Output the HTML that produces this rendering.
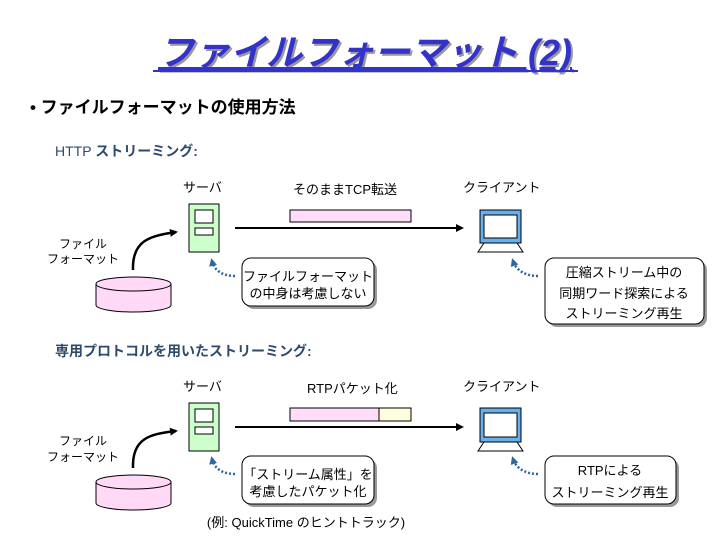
<!DOCTYPE html>
<html><head><meta charset="utf-8"><style>
html,body{margin:0;padding:0;background:#fff;}
svg{display:block;font-family:"Liberation Sans","Noto Sans CJK JP",sans-serif;}
</style></head><body>
<svg width="720" height="540" viewBox="0 0 720 540" xmlns="http://www.w3.org/2000/svg">
<defs>
<marker id="ah" markerWidth="8" markerHeight="8" refX="6" refY="4" orient="auto" markerUnits="userSpaceOnUse"><path d="M0,0 L8,4 L0,8 z" fill="#000"/></marker>
<marker id="bh" markerWidth="8" markerHeight="8" refX="5" refY="4" orient="auto" markerUnits="userSpaceOnUse"><path d="M0,0 L8,4 L0,8 z" fill="#336699"/></marker>
</defs>
<!-- title -->
<text x="367" y="67" text-anchor="middle" font-size="36" font-weight="bold" font-style="italic" fill="#999" text-decoration="underline">ファイルフォーマット (2)</text>
<text x="365" y="65" text-anchor="middle" font-size="36" font-weight="bold" font-style="italic" fill="#3333cc" text-decoration="underline">ファイルフォーマット (2)</text>
<line x1="153" y1="71" x2="578" y2="71" stroke="#3333cc" stroke-width="2"/>
<text x="30" y="113" font-size="17" font-weight="bold" fill="#000">• ファイルフォーマットの使用方法</text>

<g id="s1">
<text x="55" y="156" font-size="14" fill="#2d4a6e">HTTP <tspan font-weight="bold">ストリーミング:</tspan></text>
<text x="183" y="192" font-size="13">サーバ</text>
<text x="293" y="194" font-size="13">そのままTCP転送</text>
<text x="463" y="192" font-size="13">クライアント</text>
<rect x="189" y="204" width="30" height="48" fill="#ccffcc" stroke="#000"/>
<rect x="195" y="210" width="18" height="13" fill="#fff" stroke="#000"/>
<rect x="195" y="228" width="18" height="7" fill="#fff" stroke="#000"/>
<rect x="290" y="210" width="121" height="12" fill="#ffddf8" stroke="#000"/>
<line x1="235" y1="228" x2="462" y2="228" stroke="#000" stroke-width="2" marker-end="url(#ah)"/>
<rect x="480" y="210" width="41" height="33" fill="#66b0ee" stroke="#000"/>
<rect x="484" y="215" width="33" height="23" fill="#fff" stroke="#000"/>
<path d="M484,243 L517,243 L523,252 L478,252 z" fill="#fff" stroke="#000"/>
<text x="83" y="248" font-size="12" text-anchor="middle">ファイル</text>
<text x="83" y="263" font-size="12" text-anchor="middle">フォーマット</text>
<path d="M133,270 C132,240 150,236 176,232" fill="none" stroke="#000" stroke-width="2.5" marker-end="url(#ah)"/>
<path d="M96,284 L96,305 A37.5,7 0 0 0 171,305 L171,284" fill="#ffd9f5" stroke="#000"/>
<ellipse cx="133.5" cy="284" rx="37.5" ry="7" fill="#ffd9f5" stroke="#000"/>
<path d="M235,276 C222,276 214,270 212,261" fill="none" stroke="#336699" stroke-width="2.5" stroke-dasharray="2,2" marker-end="url(#bh)"/>
<rect x="245" y="261" width="132" height="48" rx="9" fill="#999"/>
<rect x="242" y="258" width="132" height="48" rx="9" fill="#fff" stroke="#000"/>
<text x="308" y="281" font-size="13" text-anchor="middle">ファイルフォーマット</text>
<text x="308" y="298" font-size="13" text-anchor="middle">の中身は考慮しない</text>
<path d="M538,276 C525,276 516,270 513,261" fill="none" stroke="#336699" stroke-width="2.5" stroke-dasharray="2,2" marker-end="url(#bh)"/>
<rect x="548" y="261" width="159" height="66" rx="9" fill="#999"/>
<rect x="545" y="258" width="159" height="66" rx="9" fill="#fff" stroke="#000"/>
<text x="624" y="277" font-size="13" text-anchor="middle">圧縮ストリーム中の</text>
<text x="624" y="298" font-size="13" text-anchor="middle">同期ワード探索による</text>
<text x="624" y="318" font-size="13" text-anchor="middle">ストリーミング再生</text>
</g>

<g id="s2">
<text x="55" y="356" font-size="14" font-weight="bold" fill="#2d4a6e">専用プロトコルを用いたストリーミング:</text>
<text x="183" y="391" font-size="13">サーバ</text>
<text x="307" y="393" font-size="13">RTPパケット化</text>
<text x="463" y="391" font-size="13">クライアント</text>
<rect x="189" y="403" width="30" height="48" fill="#ccffcc" stroke="#000"/>
<rect x="195" y="409" width="18" height="13" fill="#fff" stroke="#000"/>
<rect x="195" y="427" width="18" height="7" fill="#fff" stroke="#000"/>
<rect x="290" y="408" width="89" height="13" fill="#ffddf8" stroke="#000"/>
<rect x="379" y="408" width="32" height="13" fill="#ffffe0" stroke="#000"/>
<line x1="235" y1="427" x2="462" y2="427" stroke="#000" stroke-width="2" marker-end="url(#ah)"/>
<rect x="480" y="408" width="41" height="34" fill="#66b0ee" stroke="#000"/>
<rect x="484" y="413" width="33" height="24" fill="#fff" stroke="#000"/>
<path d="M484,442 L517,442 L523,451 L478,451 z" fill="#fff" stroke="#000"/>
<text x="83" y="445" font-size="12" text-anchor="middle">ファイル</text>
<text x="83" y="461" font-size="12" text-anchor="middle">フォーマット</text>
<path d="M133,468 C132,438 150,434 176,431" fill="none" stroke="#000" stroke-width="2.5" marker-end="url(#ah)"/>
<path d="M96,482 L96,503 A37.5,7 0 0 0 171,503 L171,482" fill="#ffd9f5" stroke="#000"/>
<ellipse cx="133.5" cy="482" rx="37.5" ry="7" fill="#ffd9f5" stroke="#000"/>
<path d="M235,474 C222,474 214,468 212,459" fill="none" stroke="#336699" stroke-width="2.5" stroke-dasharray="2,2" marker-end="url(#bh)"/>
<rect x="245" y="459" width="132" height="48" rx="9" fill="#999"/>
<rect x="242" y="456" width="132" height="48" rx="9" fill="#fff" stroke="#000"/>
<text x="308" y="479" font-size="13" text-anchor="middle">「ストリーム属性」を</text>
<text x="308" y="496" font-size="13" text-anchor="middle">考慮したパケット化</text>
<text x="306" y="527" font-size="13" text-anchor="middle">(例: QuickTime のヒントトラック)</text>
<path d="M538,474 C525,474 516,468 513,459" fill="none" stroke="#336699" stroke-width="2.5" stroke-dasharray="2,2" marker-end="url(#bh)"/>
<rect x="548" y="459" width="131" height="48" rx="9" fill="#999"/>
<rect x="545" y="456" width="131" height="48" rx="9" fill="#fff" stroke="#000"/>
<text x="610" y="475" font-size="13" text-anchor="middle">RTPによる</text>
<text x="610" y="497" font-size="13" text-anchor="middle">ストリーミング再生</text>
</g>
</svg>
</body></html>
